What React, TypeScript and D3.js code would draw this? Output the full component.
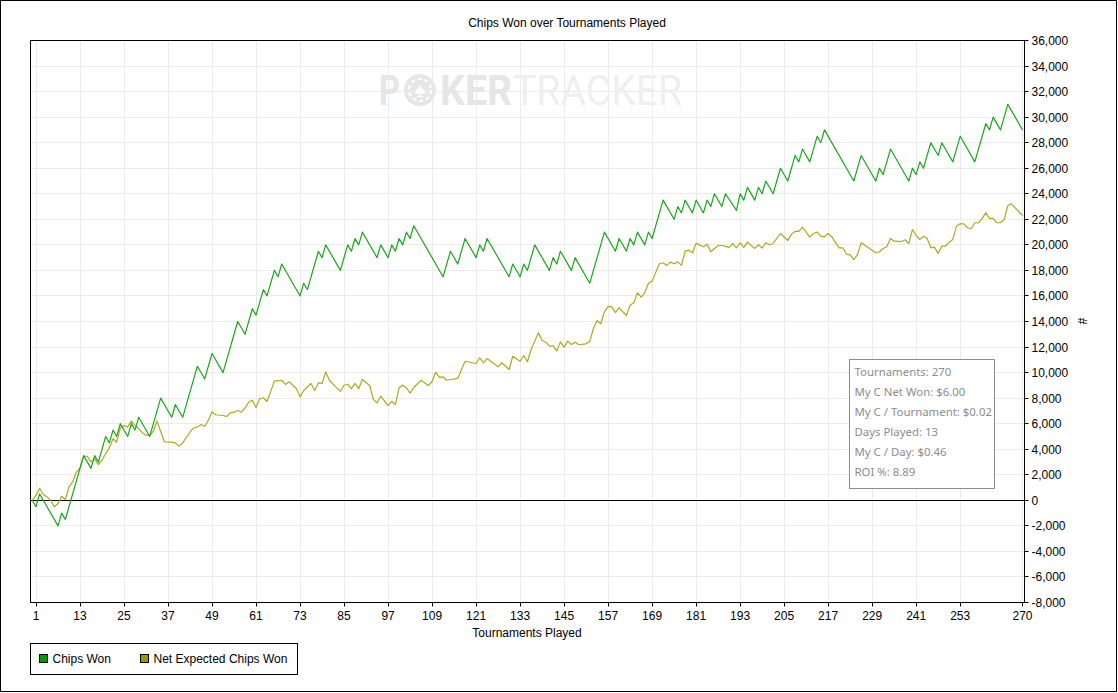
import * as d3 from "d3"

// [tournament, chips] turning points
const chipsWon: [number, number][] = [
  [0, 0], [1, -500], [2, 500], [7, -2000], [8, -1000], [9, -1500], [14, 3500], [16, 2500],
  [17, 3500], [18, 3000], [20, 5000], [21, 4500], [22, 5500], [23, 5000], [24, 6000], [26, 5000],
  [27, 6000], [28, 5500], [29, 6500], [32, 5000], [35, 8000], [38, 6500], [39, 7500], [41, 6500],
  [45, 10500], [47, 9500], [49, 11500], [52, 10000], [56, 14000], [58, 13000], [60, 15000], [61, 14500],
  [63, 16500], [64, 16000], [66, 18000], [67, 17500], [68, 18500], [73, 16000], [74, 17000], [75, 16500],
  [78, 19500], [79, 19000], [80, 20000], [84, 18000], [86, 20000], [87, 19500], [88, 20500], [89, 20000],
  [90, 21000], [94, 19000], [95, 20000], [97, 19000], [98, 20000], [99, 19500], [100, 20500], [101, 20000],
  [102, 21000], [103, 20500], [104, 21500], [112, 17500], [114, 19500], [116, 18500], [118, 20500], [121, 19000],
  [122, 20000], [123, 19500], [124, 20500], [130, 17500], [131, 18500], [133, 17500], [134, 18500], [135, 18000],
  [137, 20000], [141, 18000], [142, 19000], [143, 18500], [144, 19500], [147, 18000], [148, 19000], [152, 17000],
  [156, 21000], [159, 19500], [160, 20500], [162, 19500], [163, 20500], [164, 20000], [165, 21000], [167, 20000],
  [168, 21000], [169, 20500], [172, 23500], [175, 22000], [176, 23000], [177, 22500], [178, 23500], [180, 22500],
  [181, 23500], [183, 22500], [184, 23500], [185, 23000], [186, 24000], [188, 23000], [189, 24000], [192, 22700],
  [193, 24000], [194, 23500], [195, 24500], [197, 23500], [198, 24500], [199, 24000], [200, 25000], [202, 24000],
  [204, 26000], [206, 25000], [208, 27000], [209, 26500], [210, 27500], [212, 26500], [214, 28500], [215, 28000],
  [216, 29000], [224, 25000], [226, 27000], [230, 25000], [231, 26000], [232, 25500], [234, 27500], [239, 25000],
  [240, 26000], [241, 25500], [242, 26500], [243, 26000], [245, 28000], [247, 27000], [248, 28000], [251, 26500],
  [253, 28500], [257, 26500], [260, 29500], [261, 29000], [262, 30000], [264, 29000], [266, 31000], [270, 29000],
]

const netExpected: [number, number][] = [
  [0, 0], [1, 400], [2, 950], [3, 450], [4, 270], [5, 0], [6, -500], [7, -250], [8, 320], [9, 60],
  [10, 1060], [11, 1450], [12, 2200], [13, 2540], [14, 3450], [15, 3450], [16, 3000], [17, 3250], [18, 2800],
  [19, 3140], [20, 3660], [21, 4100], [22, 4820], [23, 4550], [24, 5680], [25, 5860], [26, 5750], [27, 6200],
  [28, 5860], [29, 5600], [30, 5290], [31, 5100], [32, 5100], [33, 5410], [34, 6200], [36, 4580], [38, 4550],
  [39, 4500], [40, 4240], [41, 4500], [43, 5330], [44, 5680], [45, 5730], [46, 5930], [47, 5800], [48, 6270],
  [49, 6930], [50, 6700], [52, 6640], [53, 6560], [54, 6850], [55, 6900], [56, 7030], [57, 6900], [58, 7240],
  [59, 7680], [60, 7840], [61, 7270], [62, 7950], [63, 8030], [64, 7740], [66, 9330], [68, 9400], [69, 9070],
  [70, 9280], [72, 8750], [73, 8100], [74, 8600], [76, 9150], [77, 8600], [78, 9200], [79, 9150], [80, 10060],
  [81, 9400], [83, 8800], [84, 8540], [85, 9010], [86, 9090], [87, 8750], [88, 9150], [89, 8730], [90, 9460],
  [92, 8990], [93, 7890], [94, 7630], [95, 8150], [97, 7420], [98, 7740], [99, 7500], [100, 8810], [101, 9010],
  [102, 8810], [103, 8390], [104, 8830], [106, 9400], [108, 8990], [109, 9300], [110, 10030], [111, 9620],
  [112, 9670], [113, 9400], [116, 9540], [118, 10890], [121, 10710], [122, 11160], [123, 10770], [124, 11100],
  [127, 10450], [128, 10770], [130, 10240], [131, 11280], [133, 10890], [134, 11340], [135, 10850], [136, 11810],
  [138, 13110], [139, 12510], [140, 12380], [141, 12070], [142, 12120], [143, 11680], [144, 12410], [145, 11990],
  [146, 12460], [147, 12200], [148, 12380], [149, 12180], [151, 12250], [152, 12460], [153, 13450], [154, 14080],
  [155, 13820], [156, 14760], [157, 15180], [158, 15150], [159, 14700], [160, 15070], [162, 14470], [163, 15280],
  [164, 15460], [165, 16250], [166, 15900], [167, 16250], [168, 17000], [169, 17160], [171, 18520], [172, 18600],
  [173, 18390], [174, 18650], [175, 18520], [176, 18670], [177, 18390], [178, 19510], [179, 19590], [180, 19380],
  [181, 20130], [182, 19980], [183, 19850], [184, 20050], [185, 19460], [187, 19950], [188, 19950], [190, 19800],
  [191, 20090], [192, 19770], [193, 20160], [194, 19800], [195, 20210], [197, 19720], [198, 20010], [199, 19750],
  [200, 20160], [201, 20010], [202, 20110], [204, 20890], [206, 20340], [207, 20840], [208, 21050], [209, 21050],
  [210, 21390], [212, 20600], [213, 20890], [214, 21000], [215, 20680], [216, 20630], [217, 20890], [218, 20630],
  [220, 19770], [221, 19770], [222, 19270], [223, 19220], [224, 18850], [225, 19240], [226, 20160], [228, 19770],
  [230, 19380], [231, 19460], [232, 19720], [233, 19850], [234, 20500], [235, 20290], [237, 20260], [238, 20400],
  [239, 20110], [240, 21200], [241, 20730], [242, 20420], [243, 20680], [244, 20500], [245, 19770], [246, 19820],
  [247, 19330], [248, 19900], [249, 19900], [250, 20210], [251, 20420], [252, 21460], [253, 21650], [254, 21650],
  [255, 21340], [256, 21260], [257, 21730], [258, 21730], [259, 22070], [260, 22510], [261, 22070], [262, 22070],
  [263, 21730], [264, 21730], [265, 21980], [266, 23080], [267, 23210], [268, 22900], [269, 22590], [270, 22300],
]

const xTicks = [1, 13, 25, 37, 49, 61, 73, 85, 97, 109, 121, 133, 145, 157, 169, 181, 193, 205, 217, 229, 241, 253, 270]
const yTicks = [-8000, -6000, -4000, -2000, 0, 2000, 4000, 6000, 8000, 10000, 12000, 14000, 16000, 18000,
  20000, 22000, 24000, 26000, 28000, 30000, 32000, 34000, 36000]

const statLines = [
  "Tournaments: 270",
  "My C Net Won: $6.00",
  "My C / Tournament: $0.02",
  "Days Played: 13",
  "My C / Day: $0.46",
  "ROI %: 8.89",
]

const series = [
  { name: "Chips Won", data: chipsWon, line: "#1aa81a", swatch: "#009900" },
  { name: "Net Expected Chips Won", data: netExpected, line: "#abab1e", swatch: "#999900" },
]

const W = 1118
const H = 693
const left = 30.5
const right = 1024.5
const top = 40.5
const bottom = 602.5
const font = "'Liberation Sans', Arial, sans-serif"

export default function App() {
  const x = d3.scaleLinear().domain([1, 270]).range([36, 1022.5])
  const y = d3.scaleLinear().domain([-8000, 36000]).range([bottom, top])
  const fmt = (v: number) => d3.format(",")(v).replace("\u2212", "-")
  const crisp = (v: number) => Math.round(v - 0.5) + 0.5

  const line = d3
    .line<[number, number]>()
    .x((d) => x(d[0]))
    .y((d) => y(d[1]))

  return (
    <svg
      width={W}
      height={H}
      style={{ position: "absolute", left: 0, top: 0, display: "block", background: "#fff" }}
      fontFamily={font}
      fontSize={12}
    >
      <defs>
        <clipPath id="plot">
          <rect x={left} y={top} width={right - left} height={bottom - top} />
        </clipPath>
      </defs>
      <rect x={0.5} y={0.5} width={W - 2} height={H - 2} fill="#fff" stroke="#000" />

      <text x={567} y={27} textAnchor="middle" fill="#000">
        Chips Won over Tournaments Played
      </text>

      {/* grid */}
      <g stroke="#ebebeb" strokeWidth={1}>
        {yTicks.map((t) => (
          <line key={"gy" + t} x1={left} x2={right} y1={crisp(y(t))} y2={crisp(y(t))} />
        ))}
        {xTicks.map((t) => (
          <line key={"gx" + t} x1={crisp(x(t))} x2={crisp(x(t))} y1={top} y2={bottom} />
        ))}
      </g>

      {/* watermark */}
      <g fontFamily="Roboto, 'Liberation Sans', sans-serif" fontSize={42}>
        <text x={379} y={105} fontWeight="bold" fill="#e6e6e6" textLength={21} lengthAdjust="spacingAndGlyphs">
          P
        </text>
        <circle cx={420} cy={90} r={16} fill="#e6e6e6" />
        <circle cx={420} cy={90} r={11} fill="none" stroke="#fff" strokeWidth={2} strokeDasharray="4 3" />
        <text x={420} y={97} textAnchor="middle" fontSize={20} fill="#fff">
          ♠
        </text>
        <text x={440} y={105} fontWeight="bold" fill="#e6e6e6" textLength={72} lengthAdjust="spacingAndGlyphs">
          KER
        </text>
        <text x={513} y={105} fill="#efefef" textLength={169} lengthAdjust="spacingAndGlyphs">
          TRACKER
        </text>
      </g>

      <line x1={left} x2={right} y1={crisp(y(0))} y2={crisp(y(0))} stroke="#000" />

      <g clipPath="url(#plot)" fill="none" strokeWidth={1.2} strokeLinejoin="round">
        {[...series].reverse().map((s) => (
          <path key={s.name} d={line(s.data) ?? ""} stroke={s.line} />
        ))}
      </g>

      {/* stats box */}
      <rect x={849.5} y={359.5} width={145} height={129} fill="#fff" stroke="#8c8c8c" />
      <g fontFamily="'Noto Sans', 'Open Sans', sans-serif" fontSize={11.4} fill="#8c8c8c">
        {statLines.map((s, i) => (
          <text key={s} x={854.5} y={376 + i * 20}>
            {s}
          </text>
        ))}
      </g>

      {/* plot frame */}
      <rect x={left} y={top} width={right - left} height={bottom - top} fill="none" stroke="#000" />

      {/* right axis */}
      <g>
        {yTicks.map((t) => (
          <g key={"ty" + t}>
            <line x1={right} x2={right + 4} y1={crisp(y(t))} y2={crisp(y(t))} stroke="#000" />
            <text x={right + 7} y={y(t) + 4.5} fill="#000">
              {fmt(t)}
            </text>
          </g>
        ))}
      </g>
      <text x={1082} y={321} transform="rotate(90 1082 321)" textAnchor="middle" dy={4} fill="#000">
        #
      </text>

      {/* bottom axis */}
      <g>
        {xTicks.map((t) => (
          <g key={"tx" + t}>
            <line x1={crisp(x(t))} x2={crisp(x(t))} y1={bottom} y2={bottom + 4} stroke="#000" />
            <text x={x(t)} y={620} textAnchor="middle" fill="#000">
              {t}
            </text>
          </g>
        ))}
      </g>
      <text x={527} y={637} textAnchor="middle" fill="#000">
        Tournaments Played
      </text>

      {/* legend */}
      <rect x={30.5} y={643.5} width={267} height={31} fill="#fff" stroke="#000" />
      {series.map((s, i) => {
        const lx = i === 0 ? 39.5 : 140.5
        return (
          <g key={"lg" + s.name}>
            <rect x={lx} y={654.5} width={8} height={8} fill={s.swatch} stroke="#000" />
            <text x={lx + 13} y={663} fill="#000">
              {s.name}
            </text>
          </g>
        )
      })}
    </svg>
  )
}
